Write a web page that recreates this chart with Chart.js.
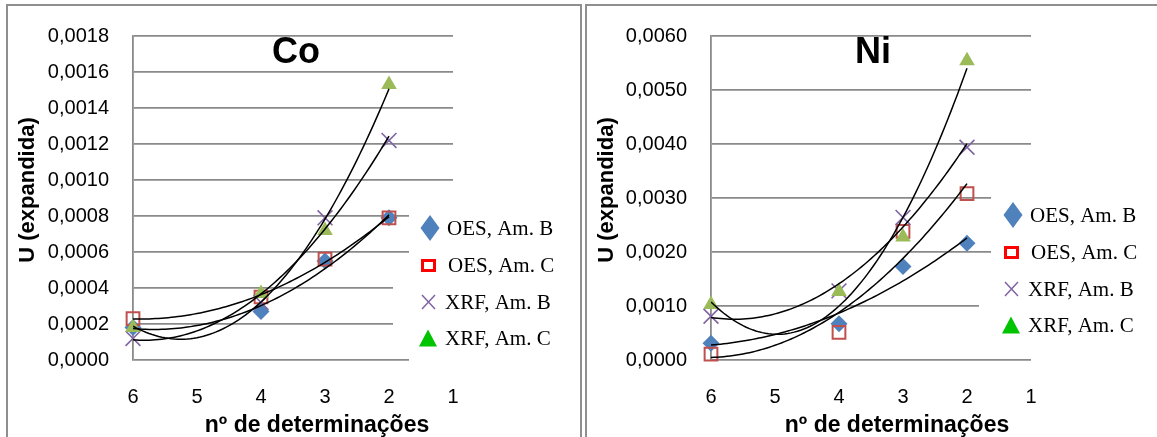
<!DOCTYPE html>
<html><head><meta charset="utf-8">
<script src="https://cdn.jsdelivr.net/npm/chart.js@4.4.1/dist/chart.umd.min.js"></script>
<style>
html,body{margin:0;padding:0;background:#fff;overflow:hidden;width:1157px;height:437px;}
.panel{position:absolute;border:2px solid #8f8f8f;box-sizing:border-box;}
#p1{left:6px;top:4px;width:576px;height:460px;}
#p2{left:585px;top:4px;width:600px;height:460px;}
canvas{position:absolute;top:0;}
#c1{left:0;} #c2{left:583px;}
</style></head><body>
<div class="panel" id="p1"></div><div class="panel" id="p2"></div>
<canvas id="c1" width="583" height="437"></canvas>
<canvas id="c2" width="574" height="437"></canvas>
<script>
// ---- data ----
const nDet = [6, 4, 3, 2];
const seriesNames = ['OES, Am. B', 'OES, Am. C', 'XRF, Am. B', 'XRF, Am. C'];
const xTickLabels = ['6', '5', '4', '3', '2', '1'];

const coOesB = [0.00018, 0.00027, 0.00055, 0.00079];
const coOesC = [0.00023, 0.00035, 0.00056, 0.00079];
const coXrfB = [0.00012, 0.00032, 0.00079, 0.00122];
const coXrfC = [0.00018, 0.00037, 0.00072, 0.00153];
const coYTicks = ['0,0000','0,0002','0,0004','0,0006','0,0008','0,0010','0,0012','0,0014','0,0016','0,0018'];

const niOesB = [0.00031, 0.00067, 0.00173, 0.00216];
const niOesC = [0.00011, 0.00051, 0.00238, 0.00308];
const niXrfB = [0.00081, 0.00128, 0.00264, 0.00394];
const niXrfC = [0.00103, 0.00127, 0.00228, 0.00554];
const niYTicks = ['0,0000','0,0010','0,0020','0,0030','0,0040','0,0050','0,0060'];

// ---- helpers ----
function quadFit(xs, ys) {
  const S = [0,0,0,0,0], T = [0,0,0];
  xs.forEach((x, i) => {
    for (let k = 0; k < 5; k++) S[k] += Math.pow(x, k);
    for (let k = 0; k < 3; k++) T[k] += ys[i] * Math.pow(x, k);
  });
  const M = [[S[0],S[1],S[2]],[S[1],S[2],S[3]],[S[2],S[3],S[4]]];
  const det = m => m[0][0]*(m[1][1]*m[2][2]-m[1][2]*m[2][1]) - m[0][1]*(m[1][0]*m[2][2]-m[1][2]*m[2][0]) + m[0][2]*(m[1][0]*m[2][1]-m[1][1]*m[2][0]);
  const D = det(M);
  return [0,1,2].map(c => det(M.map((row, r) => row.map((v, j) => j === c ? T[r] : v))) / D);
}
function trendPoints(xs, ys) {
  const [a, b, c] = quadFit(xs, ys);
  const xmax = Math.max(...xs), xmin = Math.min(...xs);
  const pts = [];
  for (let x = xmax; x >= xmin - 1e-9; x -= 0.05) pts.push({x: x, y: a + b*x + c*x*x});
  return pts;
}
const styles = [
  {pointStyle:'rectRot', radius:8.5, bg:'#4F81BD', bc:'#4F81BD', bw:0},
  {pointStyle:'rect', radius:9, bg:'rgba(0,0,0,0)', bc:'#C0504D', bw:2},
  {pointStyle:'crossRot', radius:10.5, bg:'#8064A2', bc:'#8064A2', bw:1.6},
  {pointStyle:'triangle', radius:9, bg:'#9BBB59', bc:'#9BBB59', bw:0}
];

Chart.defaults.font.family = 'Liberation Sans, Arial, sans-serif';
Chart.defaults.color = '#000';

function makeChart(id, cfg) {
  const canvas = document.getElementById(id);
  const W = canvas.width, H = canvas.height;
  const yVals = cfg.yTicks.map(s => parseFloat(s.replace(',', '.')));
  const datasets = [];
  cfg.series.forEach((ys) => {
    datasets.push({data: trendPoints(nDet, ys), showLine: true, pointRadius: 0, borderColor: '#000', borderWidth: 1.5, fill: false, order: 0});
  });
  cfg.series.forEach((ys, i) => {
    const s = styles[i];
    datasets.push({
      label: seriesNames[i],
      data: nDet.map((x, j) => ({x: x, y: ys[j]})),
      showLine: false, pointStyle: s.pointStyle, pointRadius: s.radius,
      pointBackgroundColor: s.bg, pointBorderColor: s.bc, pointBorderWidth: s.bw,
      clip: false, order: 4 - i
    });
  });
  const decor = {
    id: 'decor',
    beforeDatasetsDraw(chart) {
      const ctx = chart.ctx;
      ctx.save(); ctx.fillStyle = '#fff';
      cfg.covers.forEach(r => ctx.fillRect(r[0], r[1], r[2], r[3]));
      ctx.restore();
    },
    afterDraw(chart) {
      const ctx = chart.ctx, ca = chart.chartArea;
      ctx.save();
      ctx.fillStyle = '#000';
      ctx.font = 'bold 36px "Liberation Sans", Arial, sans-serif';
      ctx.textAlign = 'center'; ctx.textBaseline = 'alphabetic';
      ctx.fillText(cfg.title, (ca.left + ca.right) / 2 + cfg.titleDx, 63);
      ctx.font = 'bold 23px "Liberation Sans", Arial, sans-serif';
      ctx.fillText('nº de determinações', cfg.xTitleX, 432);
      ctx.save();
      ctx.translate(cfg.yTitleX, 190); ctx.rotate(-Math.PI / 2);
      ctx.font = 'bold 22px "Liberation Sans", Arial, sans-serif';
      ctx.textBaseline = 'middle';
      ctx.fillText('U (expandida)', 0, 0);
      ctx.restore();
      const mx = 428, tx = [447, 448, 445, 445];
      ctx.font = '21px "Liberation Serif", "Times New Roman", serif';
      ctx.textAlign = 'left'; ctx.textBaseline = 'middle';
      cfg.legendY.forEach((y, i) => {
        if (i === 0) {
          ctx.fillStyle = '#4F81BD';
          ctx.beginPath(); ctx.moveTo(mx + 2, y - 13); ctx.lineTo(mx + 11.5, y); ctx.lineTo(mx + 2, y + 13); ctx.lineTo(mx - 7.5, y); ctx.closePath(); ctx.fill();
        } else if (i === 1) {
          ctx.strokeStyle = '#FF0000'; ctx.lineWidth = 3;
          ctx.strokeRect(mx - 5.5, y - 4.5, 12, 10);
        } else if (i === 2) {
          ctx.strokeStyle = '#8064A2'; ctx.lineWidth = 1.5;
          ctx.beginPath(); ctx.moveTo(mx - 6, y - 7); ctx.lineTo(mx + 7, y + 7); ctx.moveTo(mx + 7, y - 7); ctx.lineTo(mx - 6, y + 7); ctx.stroke();
        } else {
          ctx.fillStyle = '#00C400';
          ctx.beginPath(); ctx.moveTo(mx, y - 8.5); ctx.lineTo(mx + 9, y + 8.5); ctx.lineTo(mx - 9, y + 8.5); ctx.closePath(); ctx.fill();
        }
        ctx.fillStyle = '#000';
        ctx.fillText(seriesNames[i], tx[i], y + 1);
      });
      ctx.restore();
    }
  };
  return new Chart(canvas, {
    type: 'scatter',
    data: {datasets: datasets},
    options: {
      responsive: false, animation: false, devicePixelRatio: 1,
      layout: {padding: {left: 0, right: W - cfg.plotRight, top: 25, bottom: 0}},
      plugins: {legend: {display: false}, tooltip: {enabled: false}, title: {display: false}},
      scales: {
        x: {
          type: 'linear', min: 1, max: 6, reverse: true,
          afterBuildTicks: s => { s.ticks = xTickLabels.map(t => ({value: parseFloat(t)})); },
          afterFit: s => { s.height = H - 360; },
          grid: {display: false, drawTicks: false},
          border: {display: false},
          ticks: {padding: 25, font: {size: 20}, color: '#000', callback: v => String(v)}
        },
        y: {
          type: 'linear', min: yVals[0], max: yVals[yVals.length - 1],
          afterBuildTicks: s => { s.ticks = yVals.map(v => ({value: v})); },
          afterFit: s => { s.width = cfg.plotLeft; },
          grid: {color: '#8a8a8a', lineWidth: 1.8, drawTicks: false},
          border: {display: true, color: '#8a8a8a', width: 1.8},
          ticks: {padding: 24, font: {size: 20}, color: '#000', callback: (v, i) => cfg.yTicks[i]}
        }
      }
    },
    plugins: [decor]
  });
}

makeChart('c1', {
  series: [coOesB, coOesC, coXrfB, coXrfC], yTicks: coYTicks, title: 'Co', titleDx: 3,
  plotLeft: 133, plotRight: 453, xTitleX: 317, yTitleX: 28,
  legendY: [228, 265, 302, 338],
  covers: [[409, 193, 52, 170], [393, 270, 20, 75]]
});
makeChart('c2', {
  series: [niOesB, niOesC, niXrfB, niXrfC], yTicks: niYTicks, title: 'Ni', titleDx: 2,
  plotLeft: 128, plotRight: 448, xTitleX: 314, yTitleX: 24,
  legendY: [215, 252, 289, 325],
  covers: [[408, 194, 50, 163], [396, 285, 20, 40]]
});
</script>
</body></html>
